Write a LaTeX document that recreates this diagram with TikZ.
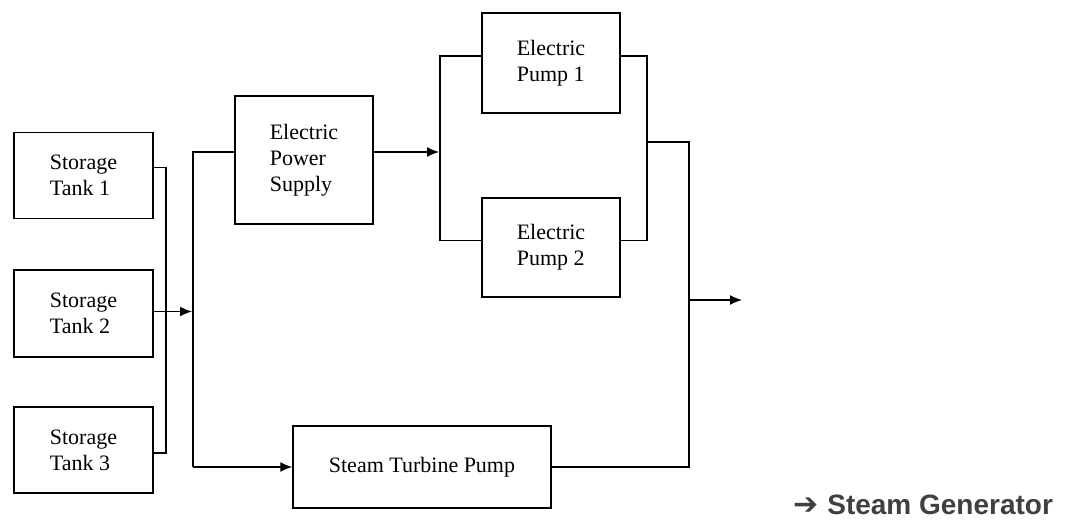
\documentclass[tikz,border=0pt]{standalone}
\usepackage{fontspec}
\setmainfont{Liberation Serif}
\newfontfamily\sgfont{Liberation Sans}
\newfontfamily\symfont{DejaVu Sans}
\usetikzlibrary{arrows.meta}
\definecolor{sggray}{HTML}{404040}

\begin{document}
\begin{tikzpicture}[x=1pt,y=-1pt,font=\fontsize{22}{26}\selectfont,
  bx/.style={draw,line width=1.5pt,align=left,inner sep=0pt,minimum width=139pt},
  ln/.style={line width=1.5pt},
  arr/.style={-{Latex[length=12pt,width=10pt]},line width=1.5pt}]
  \useasboundingbox (0,0) rectangle (1066,520);
  \node[bx,minimum height=86pt](t1) at (83.5,175.5){Storage\\Tank 1};
  \node[bx,minimum height=87pt](t2) at (83.5,313.5){Storage\\Tank 2};
  \node[bx,minimum height=86pt](t3) at (83.5,450){Storage\\Tank 3};
  \node[bx,minimum width=138pt,minimum height=128pt](eps) at (304,160){Electric\\Power\\Supply};
  \node[bx,minimum width=138pt,minimum height=100pt](p1) at (551,63){Electric\\Pump 1};
  \node[bx,minimum width=138pt,minimum height=99pt](p2) at (551,247.5){Electric\\Pump 2};
  \node[bx,minimum width=258pt,minimum height=82pt](stp) at (422,467){Steam Turbine Pump};
  \node[anchor=base west,inner sep=0pt,text=sggray,font=\fontsize{28}{32}\selectfont\bfseries\sgfont](sg) at (793,514){{\symfont\bfseries\fontsize{30}{32}\selectfont ➔}\hspace{9pt}Steam Generator};
  % junctions
  \coordinate (b1t) at (166,167.5);\coordinate (b1b) at (166,453);
  \coordinate (b2t) at (193,152);\coordinate (b2m) at (192,311.5);\coordinate (b2b) at (193,467);
  \coordinate (b3t) at (440,56);\coordinate (b3m) at (439,152);\coordinate (b3b) at (440,240.5);
  \coordinate (b4t) at (647,56);\coordinate (b4m) at (647,142);\coordinate (b4b) at (647,240.5);
  \coordinate (b5t) at (689,142);\coordinate (b5b) at (689,467);\coordinate (out) at (742,300);
  \draw[ln]([yshift=8pt]t1.east)--(b1t)--(b1b)--([yshift=-3pt]t3.east);
  \draw[arr]([yshift=2pt]t2.east)--(b2m);
  \draw[ln]([yshift=8pt]eps.west)--(b2t)--(b2b);\draw[arr](b2b)--(stp.west);
  \draw[arr]([yshift=8pt]eps.east)--(b3m);
  \draw[ln]([yshift=7pt]p1.west)--(b3t)--(b3b)--([yshift=7pt]p2.west);
  \draw[ln]([yshift=7pt]p1.east)--(b4t)--(b4b)--([yshift=7pt]p2.east);
  \draw[ln](b4m)--(b5t)--(b5b)--(stp.east);
  \draw[arr](b5t|-out)--(out);
\end{tikzpicture}
\end{document}
